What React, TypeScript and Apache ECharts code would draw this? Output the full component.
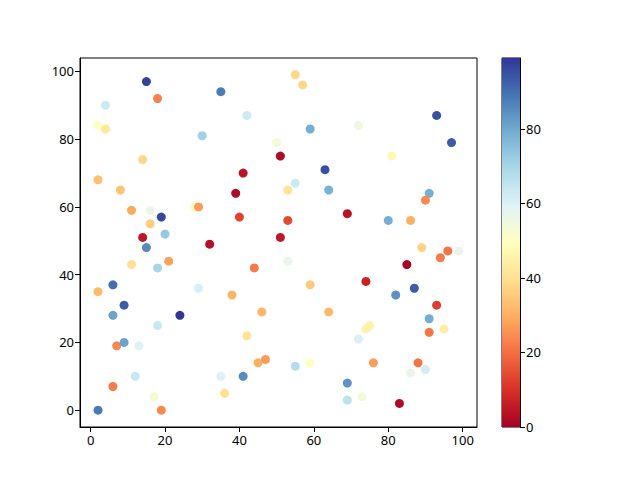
import React, { useEffect, useRef } from "react";
import * as echarts from "echarts";

const xs = [15,18,35,4,42,2,4,30,50,51,14,41,2,8,39,11,16,28,29,19,40,16,14,20,32,51,15,11,18,21,44,6,2,29,38,9,6,24,46,18,42,7,9,13,45,47,12,35,41,6,17,36,2,19,55,57,93,59,72,97,81,63,55,53,64,91,90,53,69,80,86,89,96,99,94,53,85,59,74,87,82,64,93,91,95,91,74,75,72,55,59,76,88,86,90,69,69,73,83];
const ys = [97,92,94,90,87,84,83,81,79,75,74,70,68,65,64,59,59,60,60,57,57,55,51,52,49,51,48,43,42,44,42,37,35,36,34,31,28,28,29,25,22,19,20,19,14,15,10,10,10,7,4,5,0,0,99,96,87,83,84,79,75,71,67,65,65,64,62,56,58,56,56,48,47,47,45,44,43,37,38,36,34,29,31,27,24,23,24,25,21,13,14,14,14,11,12,8,3,4,2];
const cs = [97,23,88,63,63,50,42,71,54,2,38,4,33,34,2,29,56,48,27,96,13,36,5,73,3,5,85,40,70,28,22,90,32,61,31,93,81,99,31,64,41,24,81,60,30,27,64,60,85,22,53,40,88,24,38,38,95,79,55,93,47,95,63,41,78,79,24,14,4,79,30,37,21,57,22,57,1,35,7,93,84,32,12,79,44,21,45,45,61,68,50,27,21,57,62,84,66,54,2];

const axisTicks = [0, 20, 40, 60, 80, 100];
const colorbarTicks = [0, 20, 40, 60, 80];
const colorMin = 0;
const colorMax = 99;
const rdylbu = ["#a50026","#d73027","#f46d43","#fdae61","#fee090","#ffffbf","#e0f3f8","#abd9e9","#74add1","#4575b4","#313695"];

export default function App() {
  const ref = useRef<HTMLDivElement>(null);
  useEffect(() => {
    if (!ref.current) return;
    const chart = echarts.init(ref.current, null, { renderer: "svg" });
    const data = xs.map((x, i) => [x, ys[i], cs[i]]);
    const font = { fontFamily: "Noto Sans", fontSize: 13, color: "#000" };
    const axisCommon = {
      axisLine: { show: true, onZero: false, lineStyle: { color: "#000", width: 1 } },
      axisTick: { show: true, length: 5, lineStyle: { color: "#000", width: 1 } },
      splitLine: { show: false },
    };
    chart.setOption({
      animation: false,
      backgroundColor: "#fff",
      grid: [
        { left: 80, right: 163, top: 58, bottom: 53, show: true, borderColor: "#000", borderWidth: 1, containLabel: false },
        { left: 502, width: 18, top: 58, bottom: 53, show: true, borderColor: "#000", borderWidth: 1 },
      ],
      xAxis: [
        {
          type: "value", gridIndex: 0, min: -2.85, max: 103.85,
          ...axisCommon,
          axisTick: { ...axisCommon.axisTick, customValues: axisTicks },
          axisLabel: { ...font, margin: 6, customValues: axisTicks },
        },
        { type: "category", gridIndex: 1, data: ["c"], show: false },
      ],
      yAxis: [
        {
          type: "value", gridIndex: 0, min: -4.95, max: 103.95,
          ...axisCommon,
          axisTick: { ...axisCommon.axisTick, customValues: axisTicks },
          axisLabel: { ...font, margin: 6, customValues: axisTicks },
        },
        {
          type: "value", gridIndex: 1, position: "right", min: colorMin, max: colorMax,
          ...axisCommon,
          axisTick: { ...axisCommon.axisTick, customValues: colorbarTicks },
          axisLabel: { ...font, margin: 6, customValues: colorbarTicks },
        },
      ],
      visualMap: {
        show: false, type: "continuous", min: colorMin, max: colorMax, dimension: 2, seriesIndex: 0,
        inRange: { color: rdylbu },
      },
      series: [
        {
          type: "scatter", xAxisIndex: 0, yAxisIndex: 0, data, symbolSize: 9,
          itemStyle: { opacity: 1 },
        },
        {
          type: "bar", xAxisIndex: 1, yAxisIndex: 1, data: [colorMax], barWidth: "100%",
          itemStyle: {
            color: new echarts.graphic.LinearGradient(0, 1, 0, 0,
              rdylbu.map((c, i) => ({ offset: i / (rdylbu.length - 1), color: c }))),
          },
          silent: true,
        },
      ],
    });
    return () => chart.dispose();
  }, []);
  return <div ref={ref} style={{ position: "fixed", left: 0, top: 0, width: 640, height: 480 }} />;
}
